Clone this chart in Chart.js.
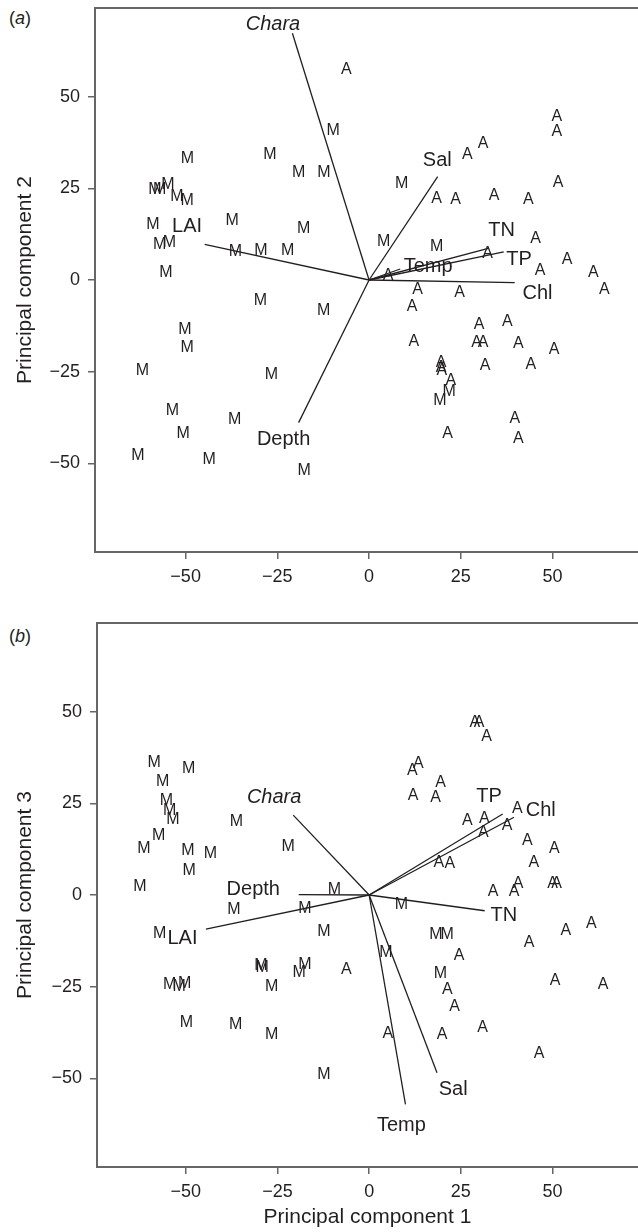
<!DOCTYPE html>
<html lang="en">
<head>
  <meta charset="UTF-8" />
  <title>PCA biplots</title>
  <script src="https://cdn.jsdelivr.net/npm/chart.js"></script>
  <style>
    body {
      margin: 0;
      padding: 0;
      background: #fff;
      width: 638px;
      height: 1232px;
      position: relative;
      overflow: hidden;
      font-family: "Liberation Sans", Arial, sans-serif;
      color: #231f20;
    }

    canvas {
      position: absolute;
      left: 0;
    }

    #pc12 { top: 0; }
    #pc13 { top: 615px; }

    .tag {
      position: absolute;
      left: 9px;
      font-size: 18px;
      line-height: 18px;
    }
  </style>
</head>
<body>
  <div class="tag" style="top: 9px;">(<i>a</i>)</div>
  <div class="tag" style="top: 627px;">(<i>b</i>)</div>

  <canvas id="pc12" width="638" height="600"></canvas>
  <canvas id="pc13" width="638" height="617"></canvas>

  <script>
    // axis ticks (both panels)
    const tickValues = [-50, -25, 0, 25, 50];

    // environmental variables (arrow names)
    const varNames = ['Chara', 'LAI', 'Depth', 'Sal', 'TN', 'TP', 'Temp', 'Chl'];

    // --- panel (a): PC1 vs PC2 ---
    const pc12M = [
      [-9.8, 41.1], [-49.5, 33.4], [-27.0, 34.5], [-19.2, 29.5], [-12.3, 29.5],
      [-58.4, 25.0], [-57.1, 25.0], [-54.8, 26.3], [-52.4, 23.0], [-49.6, 22.0],
      [-58.9, 15.3], [-37.3, 16.6], [-17.8, 14.3], [-57.1, 10.0], [-54.4, 10.4],
      [-36.4, 8.0], [-29.5, 8.4], [-22.2, 8.2], [-55.4, 2.3],
      [8.9, 26.6], [4.0, 10.7], [18.4, 9.3],
      [-29.6, -5.3], [-12.4, -8.2], [-50.2, -13.2], [-49.6, -18.3], [-61.8, -24.5],
      [-26.6, -25.4], [-53.6, -35.4], [-50.7, -41.5], [-36.6, -37.9], [-63.0, -47.7],
      [-43.6, -48.8], [-17.7, -51.6],
      [21.8, -30.2], [19.3, -32.7]
    ];
    const pc12A = [
      [-6.2, 57.7], [51.2, 44.8], [51.2, 40.7], [31.1, 37.4], [26.8, 34.5],
      [18.4, 22.4], [23.6, 22.1], [34.1, 23.4], [43.4, 22.1], [51.5, 26.8],
      [32.3, 7.5], [45.4, 11.5], [54.0, 5.9], [46.6, 2.9], [61.1, 2.3],
      [5.2, 1.6], [64.1, -2.3], [13.2, -2.3], [24.7, -3.2], [11.7, -7.1],
      [30.0, -12.0], [37.7, -11.1], [12.2, -16.4], [29.3, -16.8], [31.1, -16.8],
      [40.7, -17.1], [50.4, -18.8], [19.6, -22.3], [19.6, -23.5], [19.8, -24.5],
      [31.6, -23.0], [44.1, -22.7], [22.3, -27.2], [39.7, -37.4], [21.4, -41.6],
      [40.7, -43.0]
    ];
    // arrow tips and label centres, same order as varNames
    const pc12Arrows = [
      [-20.9, 67.3], [-44.8, 9.7], [-19.2, -38.9], [18.7, 28.2],
      [32.5, 8.6], [36.7, 7.7], [8.5, 3.0], [39.7, -0.7]
    ];
    const pc12LabelPos = [
      [-26.2, 69.8], [-49.6, 14.7], [-23.3, -43.6], [18.6, 32.5],
      [36.1, 13.6], [40.9, 5.5], [16.1, 3.6], [45.9, -3.8]
    ];

    // --- panel (b): PC1 vs PC3 ---
    const pc13M = [
      [-58.6, 36.3], [-49.2, 34.7], [-56.3, 31.1], [-55.3, 25.9], [-54.4, 23.2],
      [-53.5, 20.9], [-36.2, 20.3], [-57.4, 16.4], [-61.4, 13.0], [-49.4, 12.5],
      [-43.3, 11.5], [-22.1, 13.5], [-49.1, 6.8], [-62.5, 2.7], [-9.5, 1.8],
      [-36.9, -3.6], [-17.5, -3.4], [-12.3, -9.8], [-57.1, -10.3], [-29.5, -19.1],
      [-29.2, -19.4], [-17.5, -18.6], [-19.1, -20.9], [-54.4, -24.1], [-51.8, -24.8],
      [-50.3, -23.9], [-26.6, -24.6], [-49.8, -34.5], [-36.4, -35.2], [-26.6, -37.7],
      [-12.3, -48.8], [8.8, -2.3], [18.2, -10.6], [21.3, -10.6], [4.6, -15.5],
      [19.4, -21.1]
    ];
    const pc13A = [
      [-6.2, -20.0], [33.8, 1.2], [39.5, 1.2], [40.6, 3.5], [50.0, 3.4],
      [51.1, 3.4], [44.9, 9.1], [53.6, -9.5], [60.6, -7.4], [43.6, -12.7],
      [24.5, -16.2], [21.3, -25.4], [50.7, -23.2], [63.8, -24.1], [23.3, -30.3],
      [30.9, -35.9], [5.1, -37.5], [19.9, -37.9], [46.3, -42.9], [28.8, 47.3],
      [30.0, 47.3], [32.0, 43.6], [13.4, 36.1], [11.8, 34.1], [19.5, 30.9],
      [12.0, 27.5], [18.1, 26.8], [40.4, 23.9], [26.8, 20.6], [31.4, 21.1],
      [31.1, 17.3], [37.6, 19.1], [43.1, 15.2], [50.5, 13.0], [19.0, 9.1],
      [22.0, 8.9]
    ];
    const pc13Arrows = [
      [-20.7, 21.8], [-44.5, -9.3], [-19.2, 0.1], [18.5, -48.5],
      [31.5, -4.3], [36.4, 22.1], [9.9, -57.1], [39.5, 21.2]
    ];
    const pc13LabelPos = [
      [-25.9, 26.6], [-50.9, -11.8], [-31.6, 1.6], [22.9, -53.0],
      [36.7, -5.5], [32.7, 27.0], [8.8, -62.9], [46.8, 23.0]
    ];

    const FONT = '"Liberation Sans", Arial, sans-serif';
    const INK = '#231f20';
    const AXIS = '#666666';

    // sample letters (M / A) and variable names on top of the datasets
    const biplotText = {
      id: 'biplotText',
      afterDatasetsDraw(chart, args, opts) {
        const { ctx, scales: { x, y } } = chart;
        ctx.save();
        ctx.fillStyle = INK;
        ctx.textAlign = 'center';
        ctx.textBaseline = 'middle';

        // letters at the points placed by the library
        ctx.font = '16px ' + FONT;
        chart.data.datasets.forEach((ds, i) => {
          if (!ds.letter) return;
          chart.getDatasetMeta(i).data.forEach(pt => {
            ctx.fillText(ds.letter, pt.x, pt.y + 1);
          });
        });

        // arrow names
        varNames.forEach((name, i) => {
          ctx.font = (name === 'Chara' ? 'italic ' : '') + '20px ' + FONT;
          const p = opts.pos[i];
          ctx.fillText(name, x.getPixelForValue(p[0]), y.getPixelForValue(p[1]));
        });
        ctx.restore();
      }
    };

    function fmt(v) {
      return v < 0 ? '\u2212' + Math.abs(v) : String(v);
    }

    function toPoints(list) {
      return list.map(p => ({ x: p[0], y: p[1] }));
    }

    function createBiplot(canvasId, mPts, aPts, arrows, labelPos, opt) {
      const datasets = [];
      arrows.forEach(tip => {
        datasets.push({
          data: [{ x: 0, y: 0 }, { x: tip[0], y: tip[1] }],
          showLine: true,
          borderColor: INK,
          borderWidth: 1.3,
          pointRadius: 0
        });
      });
      datasets.push({ data: toPoints(mPts), letter: 'M', pointRadius: 0 });
      datasets.push({ data: toPoints(aPts), letter: 'A', pointRadius: 0 });

      const tickFont = { family: FONT, size: 18 };
      const titleFont = { family: FONT, size: 21 };

      const config = {
        type: 'scatter',
        data: { datasets: datasets },
        options: {
          responsive: false,
          animation: false,
          events: [],
          layout: { padding: { top: 8, left: 0, right: 0, bottom: 0 } },
          plugins: {
            legend: { display: false },
            tooltip: { enabled: false },
            biplotText: { pos: labelPos }
          },
          scales: {
            x: {
              type: 'linear',
              position: 'bottom',
              min: opt.xMin,
              max: 73.3,
              afterBuildTicks: s => { s.ticks = tickValues.map(v => ({ value: v })); },
              afterFit: s => { s.height = opt.xHeight; s.paddingLeft = 0; s.paddingRight = 0; },
              grid: { drawOnChartArea: false, drawTicks: true, tickLength: 7, color: AXIS, lineWidth: 1.5 },
              border: { display: true, color: AXIS, width: 2 },
              ticks: { color: INK, font: tickFont, padding: 7, maxRotation: 0, callback: fmt },
              title: {
                display: !!opt.xTitle,
                text: opt.xTitle || '',
                color: INK,
                font: titleFont,
                padding: { top: 0, bottom: 2 }
              }
            },
            xTop: {
              type: 'linear',
              position: 'top',
              min: opt.xMin,
              max: 73.3,
              afterFit: s => { s.height = 0; s.paddingLeft = 0; s.paddingRight = 0; },
              grid: { display: false, drawTicks: false },
              border: { display: true, color: AXIS, width: 2 },
              ticks: { display: false }
            },
            y: {
              type: 'linear',
              position: 'left',
              min: -74.2,
              max: 74.2,
              afterBuildTicks: s => { s.ticks = tickValues.map(v => ({ value: v })); },
              afterFit: s => { s.width = opt.yWidth; s.paddingTop = 0; s.paddingBottom = 0; },
              grid: { drawOnChartArea: false, drawTicks: true, tickLength: 7, color: AXIS, lineWidth: 1.5 },
              border: { display: true, color: AXIS, width: 2 },
              ticks: { color: INK, font: tickFont, padding: 8, callback: fmt },
              title: {
                display: true,
                text: opt.yTitle,
                color: INK,
                font: titleFont,
                padding: { top: 13, bottom: 0 }
              }
            }
          }
        },
        plugins: [biplotText]
      };

      const ctx = document.getElementById(canvasId).getContext('2d');
      return new Chart(ctx, config);
    }

    createBiplot('pc12', pc12M, pc12A, pc12Arrows, pc12LabelPos, {
      xMin: -74.7, yWidth: 95, xHeight: 48, yTitle: 'Principal component 2'
    });
    createBiplot('pc13', pc13M, pc13A, pc13Arrows, pc13LabelPos, {
      xMin: -74.2, yWidth: 97, xHeight: 65, yTitle: 'Principal component 3', xTitle: 'Principal component 1'
    });
  </script>
</body>
</html>
